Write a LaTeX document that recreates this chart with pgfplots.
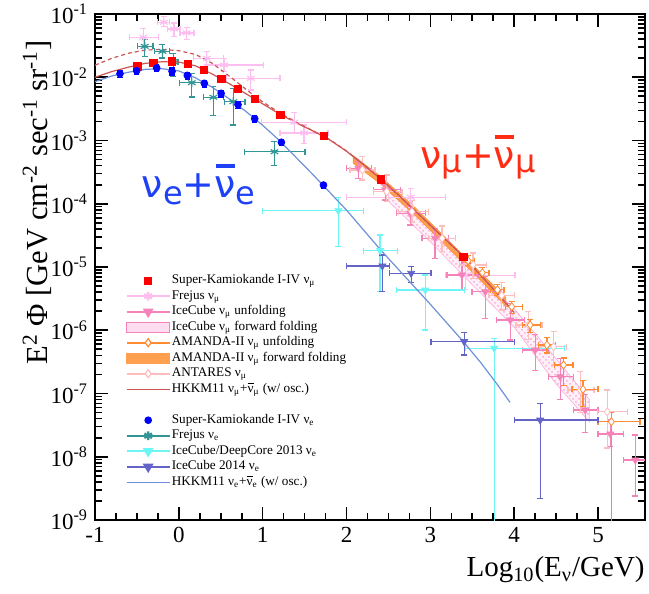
\documentclass[border=0pt]{standalone}
\usepackage{pgfplots}
\pgfplotsset{compat=1.18}
\usepackage{pgfplotstable}
\usetikzlibrary{patterns}
\usepackage{fontspec}
\setmainfont{Liberation Serif}
\newfontfamily\dvs{DejaVu Sans}

\definecolor{skmu}{RGB}{255,0,0}
\definecolor{ske}{RGB}{0,0,255}
\definecolor{hkmu}{RGB}{205,85,85}
\definecolor{hke}{RGB}{110,145,215}
\definecolor{frejmu}{RGB}{255,190,240}
\definecolor{freje}{RGB}{50,150,150}
\definecolor{icmu}{RGB}{245,130,185}
\definecolor{icff}{RGB}{250,170,215}
\definecolor{amu}{RGB}{255,140,50}
\definecolor{aff}{RGB}{255,160,80}
\definecolor{ant}{RGB}{255,190,190}
\definecolor{dc}{RGB}{110,245,245}
\definecolor{icfourteen}{RGB}{100,100,200}
\definecolor{txtblue}{RGB}{30,65,245}
\definecolor{txtred}{RGB}{255,45,20}

\newcommand{\numu}{ν\textsubscript{μ}}
\newcommand{\nue}{ν\textsubscript{e}}
\newcommand{\lbar}{$\overline{\mbox{ν}}$}
\newcommand{\bignubar}{{\setbox0\hbox{ν}\rlap{\kern0.6pt\raisebox{14.8pt}{\rule{\dimexpr\wd0-1.2pt\relax}{1.7pt}}}\box0}}

\pgfplotstableread{
x xlo xhi y ylo yhi
-0.424 -0.590 -0.245 4.276e-2 2.871e-2 5.943e-2
-0.180 -0.257 -0.113 7.413e-2 6.310e-2 9.120e-2
-0.057 -0.137 0.014 5.794e-2 4.365e-2 7.244e-2
0.092 0.014 0.180 5.035e-2 3.981e-2 6.081e-2
0.333 0.173 0.531 1.995e-2 1.563e-2 2.535e-2
0.539 0.333 1.008 1.563e-2 1.225e-2 1.995e-2
0.858 0.572 1.208 9.616e-3 6.310e-3 1.303e-2
1.376 0.989 2.000 1.950e-3 1.300e-3 2.754e-3
1.494 1.208 1.780 1.318e-3 9.016e-4 1.758e-3
2.767 2.000 3.177 1.265e-4 8.913e-5 1.754e-4
3.418 3.180 4.010 7.413e-6 4.365e-6 1.148e-5
}\frejusmu

\pgfplotstableread{
x xlo xhi y ylo yhi
-0.407 -0.495 -0.308 3.083e-2 2.143e-2 3.926e-2
-0.196 -0.288 -0.109 2.570e-2 2.014e-2 3.273e-2
-0.066 -0.120 -0.010 1.762e-2 1.023e-2 2.399e-2
0.154 0.006 0.313 8.204e-3 4.898e-3 1.148e-2
0.412 0.293 0.531 4.819e-3 2.455e-3 7.079e-3
0.650 0.543 0.790 4.111e-3 1.758e-3 6.683e-3
1.140 0.782 1.506 6.653e-4 3.981e-4 9.550e-4
}\frejuse

\pgfplotstableread{
x xlo xhi y ylo yhi
1.903 1.000 2.200 7.762e-5 2.094e-5 1.268e-4
2.401 2.200 2.607 1.820e-5 4.074e-6 3.206e-5
2.938 2.600 3.403 4.325e-6 1.009e-6 7.482e-6
3.761 3.415 4.597 5.176e-7 1.0e-10 7.413e-7
}\deepcore

\pgfplotstableread{
x xlo xhi y ylo yhi
2.428 2.000 2.510 1.038e-5 4.074e-6 1.549e-5
2.771 2.510 3.006 7.943e-6 5.649e-6 1.012e-5
3.403 3.006 4.000 6.607e-7 4.074e-7 9.120e-7
4.310 4.000 5.000 3.802e-8 2.203e-9 7.000e-8
}\icfourteentab

\pgfplotstableread{
x xlo xhi y ylo yhi
2.142 2.000 2.300 3.631e-4 2.523e-4 4.624e-4
2.461 2.320 2.640 1.660e-4 1.148e-4 1.977e-4
2.759 2.600 2.940 7.079e-5 4.613e-5 8.995e-5
3.057 2.900 3.216 2.844e-5 1.371e-5 4.083e-5
3.376 3.197 3.574 7.482e-6 4.365e-6 1.288e-5
3.654 3.495 3.833 4.074e-6 1.549e-6 7.079e-6
3.952 3.790 4.120 1.452e-6 7.015e-7 2.667e-6
4.250 4.100 4.410 4.875e-7 2.291e-7 8.610e-7
4.549 4.410 4.710 1.845e-7 7.943e-8 3.589e-7
4.847 4.710 5.000 5.495e-8 2.399e-8 9.550e-8
5.146 5.000 5.300 2.291e-8 1.445e-8 3.802e-8
5.444 5.300 5.620 8.913e-9 2.399e-9 2.208e-8
}\icunf

\pgfplotstableread{
x xlo xhi y ylo yhi
2.19 2.04 2.34 3.420e-4 2.371e-4 5.546e-4
2.48 2.32 2.66 1.549e-4 1.076e-4 2.844e-4
2.78 2.62 2.98 7.482e-5 5.012e-5 1.122e-4
3.14 2.98 3.30 2.844e-5 1.778e-5 4.467e-5
3.51 3.35 3.67 1.076e-5 6.607e-6 1.660e-5
3.85 3.70 4.00 3.548e-6 2.089e-6 5.623e-6
4.17 4.02 4.33 1.211e-6 7.079e-7 1.995e-6
4.47 4.32 4.62 5.495e-7 2.818e-7 9.550e-7
4.79 4.64 4.95 1.135e-7 5.012e-8 2.239e-7
5.11 4.99 5.35 5.129e-8 1.380e-8 1.135e-7
}\antares

\pgfplotstableread{
x xlo xhi y ylo yhi
3.45 3.37 3.53 1.259e-5 1.047e-5 1.514e-5
3.62 3.54 3.70 8.128e-6 6.761e-6 9.772e-6
3.80 3.72 3.88 4.365e-6 3.548e-6 5.248e-6
3.97 3.90 4.10 2.360e-6 1.820e-6 2.818e-6
4.19 4.10 4.31 1.211e-6 9.120e-7 1.479e-6
4.39 4.29 4.49 5.848e-7 4.365e-7 7.586e-7
4.589 4.48 4.70 2.825e-7 1.349e-7 3.631e-7
4.82 4.69 5.00 1.164e-7 6.166e-8 1.622e-7
5.158 5.00 5.50 3.581e-8 1.0e-10 5.012e-8
}\amanda

\pgfplotsset{
  table/errtab/.style={x=x, y=y,
    x error plus expr=\thisrow{xhi}-\thisrow{x},
    x error minus expr=\thisrow{x}-\thisrow{xlo},
    y error plus expr=\thisrow{yhi}-\thisrow{y},
    y error minus expr=\thisrow{y}-\thisrow{ylo}},
  ebars/.style={only marks, forget plot,
    error bars/x dir=both, error bars/y dir=both,
    error bars/x explicit, error bars/y explicit,
    error bars/error bar style={line width=0.65pt},
    error bars/error mark options={rotate=90, mark size=1.5pt, line width=0.65pt}},
  skbars/.style={only marks, forget plot,
    error bars/y dir=both, error bars/y explicit relative,
    error bars/error bar style={line width=0.7pt},
    error bars/error mark options={rotate=90, mark size=1.3pt, line width=0.7pt}},
  bandimg/.style={legend image code/.code={\draw (0cm,-0.09cm) rectangle (0.76cm,0.09cm);}},
  markimg/.style={legend image code/.code={\draw plot[only marks] coordinates {(0.38cm,0cm)};}},
}

\begin{document}
\begin{tikzpicture}
\begin{axis}[name=ax, scale only axis, width=275pt, height=253pt,
  xmin=-1, xmax=5.56, ymode=log, ymin=1e-9, ymax=1e-1,
  xtick={-1,0,1,2,3,4,5}, xticklabels={-1,0,1,2,3,4,5}, minor x tick num=3,
  ytick={1e-9,1e-8,1e-7,1e-6,1e-5,1e-4,1e-3,1e-2,1e-1},
  yticklabels={10\textsuperscript{-9},10\textsuperscript{-8},10\textsuperscript{-7},10\textsuperscript{-6},10\textsuperscript{-5},10\textsuperscript{-4},10\textsuperscript{-3},10\textsuperscript{-2},10\textsuperscript{-1}},
  minor ytick={2e-9,3e-9,4e-9,5e-9,6e-9,7e-9,8e-9,9e-9,
    2e-8,3e-8,4e-8,5e-8,6e-8,7e-8,8e-8,9e-8,
    2e-7,3e-7,4e-7,5e-7,6e-7,7e-7,8e-7,9e-7,
    2e-6,3e-6,4e-6,5e-6,6e-6,7e-6,8e-6,9e-6,
    2e-5,3e-5,4e-5,5e-5,6e-5,7e-5,8e-5,9e-5,
    2e-4,3e-4,4e-4,5e-4,6e-4,7e-4,8e-4,9e-4,
    2e-3,3e-3,4e-3,5e-3,6e-3,7e-3,8e-3,9e-3,
    2e-2,3e-2,4e-2,5e-2,6e-2,7e-2,8e-2,9e-2},
  tick align=inside, major tick length=6.5pt, minor tick length=3.5pt,
  every tick/.style={black, line width=0.8pt},
  axis line style={line width=1pt},
  ticklabel style={font=\fontsize{11.5}{13}\selectfont},
  legend image code/.code={\draw[mark repeat=2,mark phase=2] plot coordinates {(0cm,0cm) (0.38cm,0cm) (0.76cm,0cm)};},
  legend style={at={(0.0545,0.489)}, anchor=north west, draw=none, fill=none,
    inner sep=0pt, font=\fontsize{6.6}{7.5}\selectfont, row sep=0pt,
    nodes={inner sep=0.4pt, text height=4.9pt, text depth=2.05pt},
    /tikz/column 2/.style={column sep=6.5pt}},
  legend cell align=left,
]

% bands
\addplot[forget plot, draw=icff, fill=icff!18, line width=0.3pt] coordinates {
(2.5,1.585e-4) (3.0,3.981e-5) (3.5,9.550e-6) (4.0,2.188e-6) (4.5,3.548e-7) (4.9,7.943e-8)
(4.9,3.548e-8) (4.5,1.413e-7) (4.0,1.122e-6) (3.5,5.248e-6) (3.0,2.512e-5) (2.5,1.096e-4)} -- cycle;
\addplot[forget plot, draw=none, pattern=crosshatch dots, pattern color=icff] coordinates {
(2.5,1.585e-4) (3.0,3.981e-5) (3.5,9.550e-6) (4.0,2.188e-6) (4.5,3.548e-7) (4.9,7.943e-8)
(4.9,3.548e-8) (4.5,1.413e-7) (4.0,1.122e-6) (3.5,5.248e-6) (3.0,2.512e-5) (2.5,1.096e-4)} -- cycle;
\addplot[forget plot, draw=amu, fill=aff, line width=0.3pt] coordinates {
(2.08,5.754e-4) (2.4,2.754e-4) (2.8,9.120e-5) (3.2,2.754e-5) (3.6,8.128e-6) (3.9,3.311e-6)
(3.9,2.399e-6) (3.6,6.166e-6) (3.2,2.089e-5) (2.8,6.918e-5) (2.4,2.089e-4) (2.08,4.365e-4)} -- cycle;

% data with error bars
\addplot[ebars, color=frejmu, mark=asterisk, mark size=2.2pt, mark options={line width=0.6pt}] table[errtab] {\frejusmu};
\addplot[ebars, color=icmu, mark=triangle*, mark size=2pt, mark options={rotate=180}] table[errtab] {\icunf};
\addplot[ebars, color=ant, mark=diamond*, mark size=2pt, mark options={fill=white}] table[errtab] {\antares};
\addplot[ebars, color=amu, mark=diamond*, mark size=2pt, mark options={fill=white}] table[errtab] {\amanda};
\addplot[ebars, color=freje, mark=asterisk, mark size=2.2pt, mark options={line width=0.6pt}] table[errtab] {\frejuse};
\addplot[ebars, color=dc, mark=triangle*, mark size=2pt, mark options={rotate=180}] table[errtab] {\deepcore};
\addplot[ebars, color=icfourteen, mark=triangle*, mark size=2pt, mark options={rotate=180}] table[errtab] {\icfourteentab};

% HKKM11 lines
\addplot[forget plot, hkmu, line width=0.6pt, dash pattern=on 2pt off 1.5pt] coordinates {
(-1.0,1.549e-2) (-0.8,1.995e-2) (-0.6,2.399e-2) (-0.4,2.692e-2) (-0.2,2.754e-2) (0.0,2.630e-2)
(0.2,2.291e-2) (0.4,1.660e-2) (0.6,1.047e-2) (0.8,6.457e-3) (1.0,4.074e-3) (1.2,2.754e-3)
(1.4,1.950e-3) (1.6,1.429e-3) (1.8,1.035e-3) (2.0,6.839e-4) (2.2,4.217e-4) (2.4,2.541e-4)
(2.6,1.445e-4) (2.8,8.128e-5) (3.0,4.571e-5) (3.2,2.570e-5) (3.4,1.445e-5) (3.6,7.413e-6)
(3.8,3.802e-6) (4.0,1.905e-6)};
\addplot[forget plot, hkmu, line width=0.6pt] coordinates {
(-1.0,1.000e-2) (-0.8,1.230e-2) (-0.6,1.445e-2) (-0.4,1.660e-2) (-0.2,1.758e-2) (0.0,1.738e-2)
(0.2,1.514e-2) (0.4,1.122e-2) (0.6,7.943e-3) (0.8,5.495e-3) (1.0,3.802e-3) (1.2,2.630e-3)
(1.4,1.905e-3) (1.6,1.413e-3) (1.8,1.023e-3) (2.0,6.761e-4) (2.2,4.169e-4) (2.4,2.512e-4)
(2.6,1.445e-4) (2.8,8.128e-5) (3.0,4.571e-5) (3.2,2.570e-5) (3.4,1.445e-5) (3.6,7.413e-6)
(3.8,3.802e-6) (4.0,1.905e-6)};
\addplot[forget plot, hke, line width=0.6pt] coordinates {
(-1.0,8.511e-3) (-0.8,1.047e-2) (-0.6,1.202e-2) (-0.4,1.334e-2) (-0.2,1.365e-2) (0.0,1.259e-2)
(0.2,9.772e-3) (0.4,6.918e-3) (0.6,4.571e-3) (0.8,2.884e-3) (1.0,1.738e-3) (1.2,1.000e-3)
(1.4,5.370e-4) (1.6,2.884e-4) (1.8,1.514e-4) (2.0,7.943e-5) (2.2,3.890e-5) (2.4,1.905e-5)
(2.6,9.772e-6) (2.8,5.012e-6) (3.0,2.570e-6) (3.2,1.288e-6) (3.4,6.457e-7) (3.6,3.090e-7)
(3.8,1.380e-7) (3.95,7.244e-8)};

% Super-Kamiokande
\addplot[skbars, color=skmu, mark=square*, mark size=1.8pt] coordinates {
(-0.495,1.489e-2) +- (0,0.12) (-0.304,1.679e-2) +- (0,0.12) (-0.081,1.786e-2) +- (0,0.12)
(0.110,1.622e-2) +- (0,0.12) (0.301,1.318e-2) +- (0,0.12) (0.507,9.376e-3) +- (0,0.12)
(0.706,6.516e-3) +- (0,0.12) (0.905,4.581e-3) +- (0,0.12) (1.211,2.529e-3) +- (0,0.1)
(1.733,1.178e-3) +- (0,0.1) (2.409,2.432e-4) +- (0,0.1) (3.395,1.455e-5) +- (0,0.1)};
\addplot[skbars, color=ske, mark=*, mark size=1.7pt] coordinates {
(-0.702,1.138e-2) +- (0,0.12) (-0.503,1.271e-2) +- (0,0.12) (-0.264,1.400e-2) +- (0,0.12)
(-0.081,1.242e-2) +- (0,0.12) (0.101,1.072e-2) +- (0,0.12) (0.304,8.017e-3) +- (0,0.12)
(0.504,5.572e-3) +- (0,0.12) (0.706,3.681e-3) +- (0,0.12) (0.905,2.213e-3) +- (0,0.12)
(1.223,9.376e-4) +- (0,0.1) (1.725,1.977e-4) +- (0,0.1)};

% legend
\addlegendimage{markimg, only marks, color=skmu, mark=square*, mark size=1.8pt}
\addlegendentry{Super-Kamiokande I-IV \numu}
\addlegendimage{frejmu, line width=1.2pt, mark=asterisk, mark size=2.2pt}
\addlegendentry{Frejus \numu}
\addlegendimage{icmu, line width=1.2pt, mark=triangle*, mark size=2pt, mark options={rotate=180}}
\addlegendentry{IceCube \numu{} unfolding}
\addlegendimage{bandimg, draw=icmu, fill=icff!40, line width=0.6pt}
\addlegendentry{IceCube \numu{} forward folding}
\addlegendimage{amu, line width=1.2pt, mark=diamond*, mark size=2pt, mark options={fill=white, line width=0.6pt}}
\addlegendentry{AMANDA-II \numu{} unfolding}
\addlegendimage{bandimg, draw=aff, fill=aff, line width=0.6pt}
\addlegendentry{AMANDA-II \numu{} forward folding}
\addlegendimage{ant, line width=1.2pt, mark=diamond*, mark size=2pt, mark options={fill=white, line width=0.6pt}}
\addlegendentry{ANTARES \numu}
\addlegendimage{hkmu, line width=0.6pt}
\addlegendentry{HKKM11 \numu+\lbar\textsubscript{μ} (w/ osc.)}
\addlegendimage{empty legend}
\addlegendentry{\strut}
\addlegendimage{markimg, only marks, color=ske, mark=*, mark size=1.7pt}
\addlegendentry{Super-Kamiokande I-IV \nue}
\addlegendimage{freje, line width=1.2pt, mark=asterisk, mark size=2.2pt}
\addlegendentry{Frejus \nue}
\addlegendimage{dc, line width=1.2pt, mark=triangle*, mark size=2pt, mark options={rotate=180}}
\addlegendentry{IceCube/DeepCore 2013 \nue}
\addlegendimage{icfourteen, line width=1.2pt, mark=triangle*, mark size=2pt, mark options={rotate=180}}
\addlegendentry{IceCube 2014 \nue}
\addlegendimage{hke, line width=0.6pt}
\addlegendentry{HKKM11 \nue+\lbar\textsubscript{e} (w/ osc.)}

% annotations
\node[anchor=base west, inner sep=0pt, text=txtblue, font=\dvs\fontsize{19}{22}\selectfont]
  at (rel axis cs:0.0847,0.638) {ν\raisebox{-3.5pt}{\fontsize{16}{18}\selectfont e}+\bignubar\raisebox{-3.5pt}{\fontsize{16}{18}\selectfont e}};
\node[anchor=base west, inner sep=0pt, text=txtred, font=\dvs\fontsize{19}{22}\selectfont]
  at (rel axis cs:0.591,0.695) {ν\raisebox{-2pt}{\fontsize{16}{18}\selectfont μ}+\bignubar\raisebox{-2pt}{\fontsize{16}{18}\selectfont μ}};

\coordinate (ylab) at (rel axis cs:0,0.628);
\coordinate (xlab) at (rel axis cs:1,0);
\end{axis}
\node[rotate=90, anchor=center, inner sep=0pt, font=\fontsize{15.3}{17}\selectfont]
  at ([xshift=-29pt]ylab) {E\textsuperscript{2} Φ [GeV cm\textsuperscript{-2} sec\textsuperscript{-1} sr\textsuperscript{-1}]};
\node[anchor=base east, inner sep=0pt, font=\fontsize{14.5}{17}\selectfont]
  at ([yshift=-28.5pt]xlab) {Log\textsubscript{10}(E\textsubscript{ν}/GeV)};
\pgfresetboundingbox
\path ([shift={(-47.5pt,-37pt)}]ax.south west) rectangle ([shift={(2pt,7pt)}]ax.north east);
\end{tikzpicture}
\end{document}
